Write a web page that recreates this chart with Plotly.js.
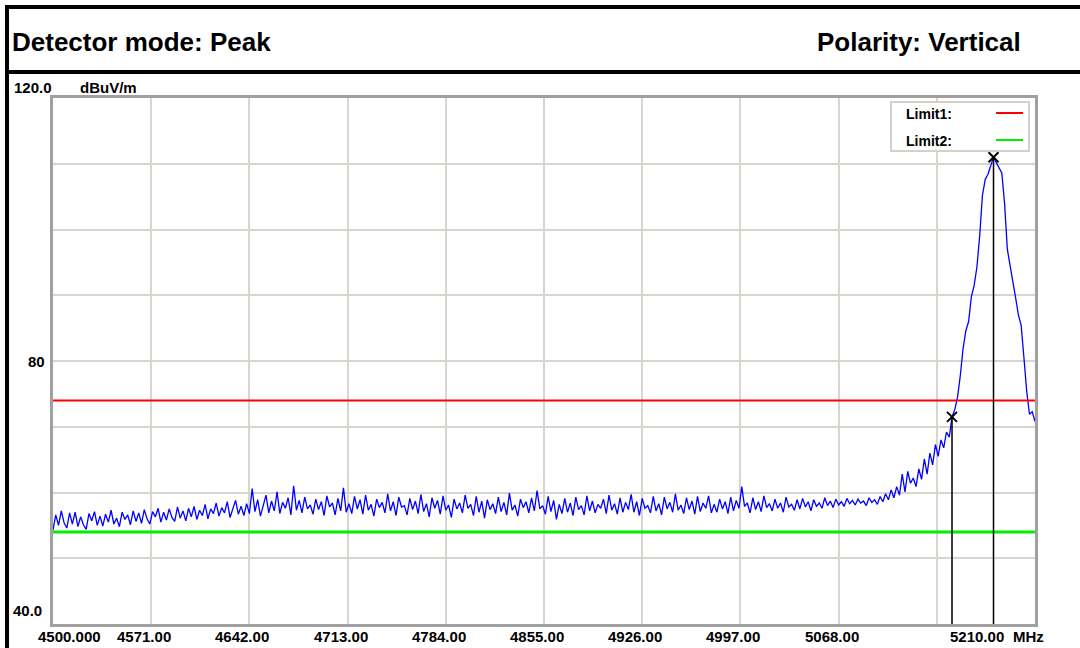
<!DOCTYPE html>
<html>
<head>
<meta charset="utf-8">
<script src="https://cdn.plot.ly/plotly-3.0.1.min.js"></script>
<style>
html,body{margin:0;padding:0;background:#ffffff;}
#chart{width:1080px;height:648px;}
</style>
</head>
<body>
<div id="chart"></div>
<script>
// ---------------- DATA ----------------
const sweepStartMHz = 4500;
const sweepStepMHz = 2;
// measured level (dBuV/m), one value per 2 MHz from 4500 to 5210 MHz
const levelDbuv = [
  54.3, 56.6, 55.0, 57.2, 55.4, 54.6, 56.9, 55.2, 57.0, 54.8,
  56.3, 55.1, 54.4, 56.8, 55.7, 57.1, 55.0, 56.4, 54.9, 56.7,
  55.5, 57.3, 55.2, 56.1, 54.8, 57.0, 55.9, 56.6, 55.1, 57.2,
  55.6, 56.9, 55.3, 57.4, 56.0, 55.2, 57.1, 56.3, 57.6, 55.5,
  57.0, 55.8, 57.5, 56.2, 55.6, 57.8, 56.1, 57.2, 55.7, 57.6,
  56.3, 57.9, 55.9, 57.3, 56.5, 58.2, 56.0, 57.5, 56.8, 58.4,
  56.4, 57.7, 56.9, 58.6, 56.2, 57.4, 58.8, 56.7, 57.9, 56.5,
  58.3, 56.8, 60.6, 57.1, 58.9, 56.4, 58.0, 59.6, 56.9, 58.7,
  57.2, 60.1, 56.8, 58.5, 57.6, 59.2, 56.6, 61.0, 57.3, 58.8,
  56.9, 59.3, 57.5, 58.1, 56.7, 59.0, 57.4, 58.6, 56.5, 59.5,
  57.8, 58.4, 56.6, 59.1, 57.2, 60.7, 57.0, 58.3, 56.8, 59.4,
  57.5, 58.9, 56.7, 59.6, 57.3, 58.2, 56.4, 59.0, 57.7, 58.5,
  56.9, 59.8, 57.2, 58.6, 56.5, 59.3, 57.8, 58.0, 56.6, 59.1,
  57.4, 58.7, 56.8, 59.7, 57.1, 58.3, 56.3, 59.2, 57.6, 58.8,
  56.7, 59.5, 57.3, 58.1, 56.2, 59.0, 57.5, 58.4, 56.9, 59.6,
  57.6, 58.2, 56.5, 59.4, 57.0, 58.7, 56.1, 58.9, 57.4, 58.3,
  56.8, 59.3, 57.1, 58.5, 56.6, 59.9, 57.3, 58.1, 56.4, 59.0,
  57.7, 58.6, 56.9, 59.2, 57.2, 60.3, 57.5, 58.0, 56.7, 59.4,
  57.1, 58.8, 55.9, 58.2, 56.8, 59.1, 57.0, 58.4, 56.5, 59.3,
  57.4, 58.0, 56.6, 59.5, 57.2, 58.7, 56.9, 58.2, 57.6, 59.0,
  56.8, 59.6, 57.3, 58.3, 56.7, 59.2, 57.0, 58.5, 57.4, 59.7,
  57.0, 58.6, 56.5, 59.1, 57.6, 58.0, 56.9, 59.4, 57.2, 58.3,
  56.6, 59.3, 57.5, 58.5, 57.0, 59.8, 57.3, 58.1, 56.8, 59.2,
  57.4, 58.7, 56.7, 59.4, 57.1, 58.4, 57.6, 59.5, 56.9, 58.2,
  57.0, 59.0, 57.5, 58.6, 56.8, 59.3, 57.2, 58.8, 57.6, 60.9,
  57.9, 58.4, 56.9, 59.2, 57.4, 58.6, 57.1, 59.5, 57.7, 58.3,
  57.2, 59.0, 57.6, 58.4, 57.0, 59.3, 57.8, 58.2, 57.3, 58.9,
  57.5, 59.1, 57.8, 58.6, 57.2, 58.9, 57.9, 58.4, 57.6, 59.2,
  58.0, 58.7, 57.7, 59.0, 58.1, 58.6, 57.9, 59.1, 58.3, 58.8,
  58.1, 59.0, 58.4, 58.7, 58.0, 59.2, 58.5, 58.9, 58.2, 59.4,
  58.6, 59.8, 58.9, 60.4, 59.2, 60.9, 59.6, 62.8, 60.1, 63.2,
  61.4, 62.2, 60.9, 63.6, 62.0, 65.1, 62.8, 66.0, 64.2, 67.3,
  65.5, 68.0, 66.8, 69.2, 68.4,
  71.5, 72.6, 74.5, 77.8, 81.9, 84.6, 86.0, 89.8, 91.5, 94.3,
  99.0, 105.2, 107.6, 108.4, 109.9, 111.0, 110.2, 109.3, 108.6, 104.0,
  97.0, 94.5, 92.3, 89.6, 87.0, 85.4, 80.5, 75.4, 71.9, 72.3,
  70.8
];
const limitNames = ['Limit1:', 'Limit2:'];
const limitValues = [74, 54];
const markerFreqMHz = [5150, 5180];
const markerLevel = [71.5, 111.0];
const xRange = [4500, 5210];
const yRange = [40, 120];
const xTickVals = [4500, 4571, 4642, 4713, 4784, 4855, 4926, 4997, 5068, 5210];
const xTickLabels = ['4500.000', '4571.00', '4642.00', '4713.00', '4784.00', '4855.00', '4926.00', '4997.00', '5068.00', '5210.00'];
const xUnit = 'MHz';
const yTickVals = [120, 80, 40];
const yTickLabels = ['120.0', '80', '40.0'];
const yUnit = 'dBuV/m';
const headerLeft = 'Detector mode: Peak';
const headerRight = 'Polarity: Vertical';

// ---------------- STYLE ----------------
const W = 1080, H = 648;
const PL = 53, PR = 1035, PT = 98, PB = 624;
const px = x => (x - PL) / (PR - PL);
const py = y => (PB - y) / (PB - PT);
const FONT = 'Liberation Sans, Arial, Helvetica, sans-serif';
const limitColors = ['#ff0000', '#00ee00'];
const limitWidths = [2, 3];
const xLabelShift = [16, -7, -7, -7, -7, -7, -7, -7, -7, -58];

const freq = levelDbuv.map((_, i) => sweepStartMHz + i * sweepStepMHz);

const traces = [
  {x: freq, y: levelDbuv, type: 'scatter', mode: 'lines',
   line: {color: '#0000ff', width: 1.3}, hoverinfo: 'x+y', showlegend: false}
];
limitValues.forEach((v, i) => {
  traces.push({x: xRange, y: [v, v], type: 'scatter', mode: 'lines',
    line: {color: limitColors[i], width: limitWidths[i]}, name: limitNames[i], showlegend: false});
});
traces.push({x: markerFreqMHz, y: markerLevel, type: 'scatter', mode: 'markers',
  marker: {symbol: 'x-thin', size: 10, line: {color: '#000000', width: 2}, color: '#000000'},
  showlegend: false});

const shapes = [];
markerFreqMHz.forEach((f, i) => {
  shapes.push({type: 'line', xref: 'x', yref: 'y', x0: f, x1: f, y0: markerLevel[i], y1: yRange[0],
    line: {color: '#000000', width: 1.5}, layer: 'above'});
});
const blk = (x0, y0, x1, y1, w) => ({type: 'line', xref: 'paper', yref: 'paper',
  x0: px(x0), x1: px(x1), y0: py(y0), y1: py(y1), line: {color: '#000000', width: w}, layer: 'above'});
shapes.push(blk(5, 7, 1080, 7, 4));
shapes.push(blk(5, 72, 1080, 72, 4));
shapes.push(blk(7, 5, 7, 648, 4));
shapes.push({type: 'rect', xref: 'paper', yref: 'paper', x0: px(891), x1: px(1029), y0: py(151), y1: py(102),
  fillcolor: '#ffffff', line: {color: '#d4d0c8', width: 2}, layer: 'above'});
limitNames.forEach((n, i) => {
  const yy = 113 + i * 27;
  shapes.push({type: 'line', xref: 'paper', yref: 'paper', x0: px(996), x1: px(1023), y0: py(yy), y1: py(yy),
    line: {color: limitColors[i], width: 2}, layer: 'above'});
});

const ann = [];
const txt = (text, x, y, xa, size) => ({text: '<b>' + text + '</b>', xref: 'paper', yref: 'paper',
  x: px(x), y: py(y), xanchor: xa, yanchor: 'middle', showarrow: false,
  font: {family: FONT, size: size, color: '#000000'}});
ann.push(txt(headerLeft, 10, 42, 'left', 26));
ann.push(txt(headerRight, 1023, 42, 'right', 26));
xTickVals.forEach((v, i) => {
  ann.push({text: '<b>' + xTickLabels[i] + '</b>', xref: 'x', yref: 'paper', x: v, y: 0,
    xanchor: 'center', yanchor: 'top', yshift: -2, xshift: xLabelShift[i], showarrow: false,
    font: {family: FONT, size: 15, color: '#000000'}});
});
ann.push(txt(xUnit, 1011, 636, 'left', 15));
ann.push(txt(yTickLabels[0], 12, 88, 'left', 15));
ann.push(txt(yUnit, 78, 88, 'left', 15));
ann.push({text: '<b>' + yTickLabels[1] + '</b>', xref: 'paper', yref: 'y', x: px(47), y: yTickVals[1],
  xanchor: 'right', yanchor: 'middle', showarrow: false, font: {family: FONT, size: 15, color: '#000000'}});
ann.push(txt(yTickLabels[2], 11, 610, 'left', 15));
limitNames.forEach((n, i) => ann.push(txt(n, 904, 114 + i * 27, 'left', 14)));

const axisCommon = {showticklabels: false, ticks: '', showgrid: true, gridcolor: '#d8d5cf', gridwidth: 2,
  showline: true, linecolor: '#a0a0a0', linewidth: 3, mirror: true, zeroline: false, fixedrange: true};

const layout = {
  width: W, height: H,
  margin: {l: PL, r: W - PR, t: PT, b: H - PB, pad: 0},
  paper_bgcolor: '#ffffff', plot_bgcolor: '#ffffff',
  showlegend: false,
  xaxis: Object.assign({}, axisCommon, {range: xRange, tick0: xRange[0], dtick: 71}),
  yaxis: Object.assign({}, axisCommon, {range: yRange, tick0: yRange[0], dtick: 10}),
  shapes: shapes,
  annotations: ann
};

Plotly.newPlot('chart', traces, layout, {staticPlot: true, displayModeBar: false});
</script>
</body>
</html>
